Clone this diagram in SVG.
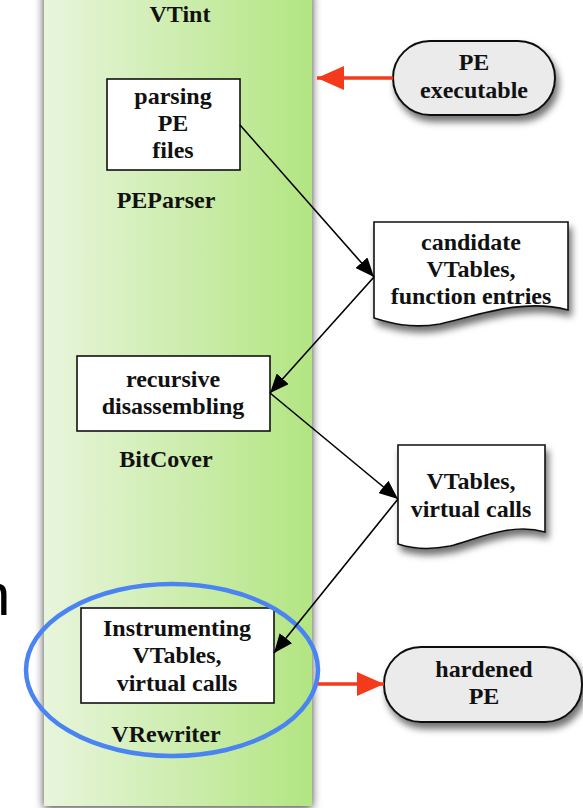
<svg xmlns="http://www.w3.org/2000/svg" width="583" height="808" viewBox="0 0 583 808">
  <style>
    .t { font-family: "Liberation Serif", "Times New Roman", serif; font-weight: bold; fill: #111; text-anchor: middle; }
    .node { font-size: 24px; }
    .lab { font-size: 24px; }
    .box { fill: #ffffff; stroke: #111; stroke-width: 1.6; }
    .pill { fill: #ebebeb; stroke: #111; stroke-width: 2; }
    .doc { fill: #ffffff; stroke: #111; stroke-width: 1.6; }
    .flow { fill: none; stroke: #000; stroke-width: 1.6; }
    .io { fill: none; stroke: #f43a1c; stroke-width: 3.5; }
  </style>
  <defs>
    <linearGradient id="panelFill" x1="0" y1="0" x2="1" y2="0">
      <stop offset="0" stop-color="#e8f5dc"/>
      <stop offset="1" stop-color="#b3e582"/>
    </linearGradient>
    <filter id="panelShadow" x="-10%" y="-5%" width="120%" height="110%">
      <feDropShadow dx="0" dy="2" stdDeviation="5" flood-color="#000" flood-opacity="0.75"/>
    </filter>
    <filter id="drop" x="-20%" y="-20%" width="150%" height="160%">
      <feDropShadow dx="3" dy="6" stdDeviation="3.5" flood-color="#000" flood-opacity="0.55"/>
    </filter>
    <marker id="blackHead" markerUnits="userSpaceOnUse" markerWidth="20" markerHeight="16" refX="19" refY="8" orient="auto">
      <path d="M0,0 L19,8 L0,16 Z" fill="#000"/>
    </marker>
    <marker id="redHead" markerUnits="userSpaceOnUse" markerWidth="28" markerHeight="24" refX="27" refY="12" orient="auto">
      <path d="M0,0 L27,12 L0,24 Z" fill="#f43a1c"/>
    </marker>
  </defs>

  <!-- clipped glyph at the far left edge -->
  <text x="-23" y="615" style="font-family: 'Liberation Sans', Arial, sans-serif; font-size: 60px; fill: #000;">n</text>

  <!-- VTint container -->
  <g id="vtint">
    <rect x="44" y="-10" width="268" height="816" fill="url(#panelFill)" filter="url(#panelShadow)"/>
    <text class="t lab" x="180" y="22">VTint</text>
  </g>

  <g id="peparser">
    <rect class="box" x="107" y="79" width="133" height="91"/>
    <text class="t node" x="173" y="104">parsing</text>
    <text class="t node" x="173" y="131">PE</text>
    <text class="t node" x="173" y="158">files</text>
    <text class="t lab" x="166" y="208">PEParser</text>
  </g>

  <g id="bitcover">
    <rect class="box" x="77" y="356" width="193" height="75"/>
    <text class="t node" x="173" y="387">recursive</text>
    <text class="t node" x="173" y="414">disassembling</text>
    <text class="t lab" x="166" y="467">BitCover</text>
  </g>

  <g id="vrewriter">
    <rect class="box" x="81" y="608" width="193" height="95"/>
    <text class="t node" x="177" y="636">Instrumenting</text>
    <text class="t node" x="177" y="663">VTables,</text>
    <text class="t node" x="177" y="691">virtual calls</text>
    <text class="t lab" x="166" y="742">VRewriter</text>
    <ellipse cx="172" cy="670" rx="146" ry="86" fill="none" stroke="#4a83f2" stroke-width="4.5"/>
  </g>

  <g id="pe-executable">
    <rect class="pill" x="393" y="41" width="162" height="74" rx="37" ry="37" filter="url(#drop)"/>
    <text class="t node" x="474" y="70">PE</text>
    <text class="t node" x="474" y="98">executable</text>
  </g>

  <g id="candidates">
    <path class="doc" filter="url(#drop)" d="M374,222 H568 V310 C520,297 470,318 440,324 C410,329 390,323 374,318 Z"/>
    <text class="t node" x="471" y="250">candidate</text>
    <text class="t node" x="471" y="277">VTables,</text>
    <text class="t node" x="471" y="304">function entries</text>
  </g>

  <g id="vtables-calls">
    <path class="doc" filter="url(#drop)" d="M398,445 H545 V532 C510,522 475,540 450,546 C425,551 410,548 398,544 Z"/>
    <text class="t node" x="471" y="489">VTables,</text>
    <text class="t node" x="471" y="517">virtual calls</text>
  </g>

  <g id="hardened-pe">
    <rect class="pill" x="384" y="647" width="198" height="75" rx="37" ry="37" filter="url(#drop)"/>
    <text class="t node" x="484" y="677">hardened</text>
    <text class="t node" x="484" y="704">PE</text>
  </g>

  <g id="connectors">
    <line class="flow" x1="240" y1="125" x2="374" y2="277" marker-end="url(#blackHead)"/>
    <line class="flow" x1="374" y1="277" x2="270" y2="393" marker-end="url(#blackHead)"/>
    <line class="flow" x1="270" y1="393" x2="398" y2="499" marker-end="url(#blackHead)"/>
    <line class="flow" x1="398" y1="499" x2="274" y2="653" marker-end="url(#blackHead)"/>
    <line class="io" x1="393" y1="78" x2="317" y2="78" marker-end="url(#redHead)"/>
    <line class="io" x1="318" y1="684" x2="384" y2="684" marker-end="url(#redHead)"/>
  </g>
</svg>
